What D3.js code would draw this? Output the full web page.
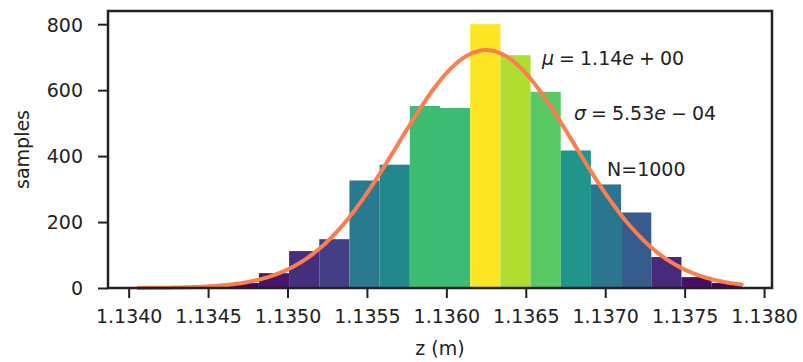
<!DOCTYPE html>
<html>
<head>
<meta charset="utf-8">
<script src="https://cdn.jsdelivr.net/npm/d3@7"></script>
<style>
  html, body { margin: 0; padding: 0; background: #fff; }
  svg { display: block; }
  svg text { font-family: "DejaVu Sans", sans-serif; font-size: 19px; fill: #222; }
</style>
</head>
<body>
<svg id="chart" width="803" height="362"></svg>
<script>
// Histogram of z positions (density-normalised), 20 equal bins
const zRange = [1.13406, 1.13786];
const density = [5, 0, 5, 15, 45, 112, 148, 326, 374, 552, 546, 800, 706, 595, 417, 314, 229, 94, 33, 15];

// Normal fit drawn over the histogram
const fitMu = 1.13625;
const fitSigma = 5.53e-4;
const sampleCount = 1000;

const xTicks = [1.1340, 1.1345, 1.1350, 1.1355, 1.1360, 1.1365, 1.1370, 1.1375, 1.1380];
const yTicks = [0, 200, 400, 600, 800];

const margin = { left: 108, right: 31, top: 11, bottom: 74 };
const W = 803, H = 362;
const iw = W - margin.left - margin.right;
const ih = H - margin.top - margin.bottom;

const svg = d3.select("#chart");
const g = svg.append("g").attr("transform", `translate(${margin.left},${margin.top})`);

const span = zRange[1] - zRange[0];
const pad = span * 0.05;
const x = d3.scaleLinear().domain([zRange[0] - pad, zRange[1] + pad]).range([0, iw]);
const yMax = d3.max(density) * 1.05;
const y = d3.scaleLinear().domain([0, yMax]).range([ih, 0]);

const binW = span / density.length;
const bins = density.map((h, i) => ({ x0: zRange[0] + i * binW, x1: zRange[0] + (i + 1) * binW, h }));
const maxH = d3.max(density);

// bars, coloured by height
g.append("g").selectAll("rect").data(bins).join("rect")
  .attr("x", d => x(d.x0))
  .attr("width", d => x(d.x1) - x(d.x0))
  .attr("y", d => y(d.h))
  .attr("height", d => ih - y(d.h))
  .attr("fill", d => d3.interpolateViridis(d.h / maxH));

// fitted normal pdf
const pdf = z => Math.exp(-0.5 * ((z - fitMu) / fitSigma) ** 2) / (fitSigma * Math.sqrt(2 * Math.PI));
const zs = d3.range(0, 401).map(i => zRange[0] + span * i / 400);
g.append("path")
  .datum(zs)
  .attr("fill", "none")
  .attr("stroke", "#fa7e50")
  .attr("stroke-width", 4)
  .attr("stroke-linecap", "round")
  .attr("d", d3.line().x(z => x(z)).y(z => y(pdf(z))));

// axes
const xAxis = g.append("g").attr("transform", `translate(0,${ih})`)
  .call(d3.axisBottom(x).tickValues(xTicks).tickFormat(d3.format(".4f")).tickSizeOuter(0).tickSize(10).tickPadding(11));
const yAxis = g.append("g")
  .call(d3.axisLeft(y).tickValues(yTicks).tickSizeOuter(0).tickSize(10).tickPadding(15));
[xAxis, yAxis].forEach(a => {
  a.attr("font-family", null).attr("font-size", null);
  a.select(".domain").remove();
  a.selectAll(".tick line").attr("stroke", "#222").attr("stroke-width", 2);
});
xAxis.selectAll(".tick text").attr("dy", "0.75em");
yAxis.selectAll(".tick text").attr("dy", "0.36em");

// frame
g.append("rect").attr("x", 0).attr("y", 0).attr("width", iw).attr("height", ih)
  .attr("fill", "none").attr("stroke", "#222").attr("stroke-width", 2.5);

// axis labels
svg.append("text").attr("x", margin.left + iw / 2).attr("y", 355)
  .attr("text-anchor", "middle").text("z (m)");
svg.append("text").attr("transform", `translate(29,${margin.top + ih / 2}) rotate(-90)`)
  .attr("text-anchor", "middle").text("samples");

// fit annotations
function fmtExp(v) {
  const [m, e] = v.toExponential(2).split("e");
  const sign = e[0] === "-" ? "\u2212" : "+";
  const ex = String(Math.abs(+e)).padStart(2, "0");
  return { m, sign, ex };
}
function mathLabel(px, py, sym, v) {
  const f = fmtExp(v);
  const t = g.append("text").attr("x", px).attr("y", py);
  t.append("tspan").attr("font-style", "italic").text(sym);
  t.append("tspan").attr("dx", 5).text("=");
  t.append("tspan").attr("dx", 5).text(f.m);
  t.append("tspan").attr("font-style", "italic").text("e");
  t.append("tspan").attr("dx", 5).text(f.sign);
  t.append("tspan").attr("dx", 5).text(f.ex);
}
mathLabel(542 - margin.left, 65 - margin.top, "\u03bc", fitMu);
mathLabel(574 - margin.left, 120 - margin.top, "\u03c3", fitSigma);
g.append("text").attr("x", 607 - margin.left).attr("y", 176 - margin.top)
  .text(`N=${sampleCount}`);
</script>
</body>
</html>
